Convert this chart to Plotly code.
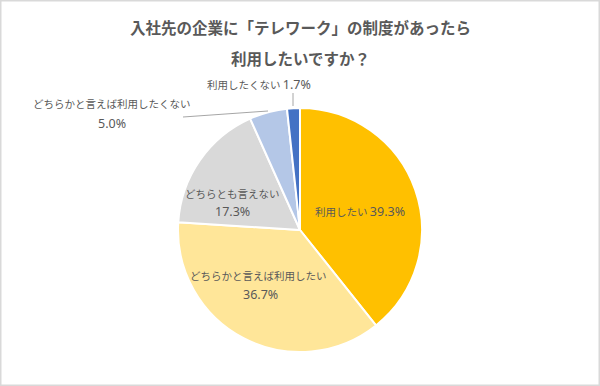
import plotly.graph_objects as go

categories = ["利用したい", "どちらかと言えば利用したい", "どちらとも言えない",
              "どちらかと言えば利用したくない", "利用したくない"]
values = [39.3, 36.7, 17.3, 5.0, 1.7]
colors = ["#FFC000", "#FFE699", "#D9D9D9", "#B4C7E7", "#4472C4"]
title_lines = ["入社先の企業に「テレワーク」の制度があったら", "利用したいですか？"]

W, H = 600, 386
FONT = "Noto Sans CJK JP"

fig = go.Figure(go.Pie(
    labels=categories, values=values, sort=False, direction="clockwise", rotation=0,
    marker=dict(colors=colors, line=dict(color="white", width=2)),
    textinfo="none", hoverinfo="label+percent", showlegend=False,
    domain=dict(x=[0.5 - 122 / W, 0.5 + 122 / W], y=[(156 - 122) / H, (156 + 122) / H]),
))

def px(x, y):
    return x / W, 1 - y / H

anns = []
for i, t in enumerate(title_lines):
    x, y = px(300, 27 + 31 * i)
    anns.append(dict(text=f"<b>{t}</b>", x=x, y=y, xref="paper", yref="paper",
                     xanchor="center", yanchor="middle", showarrow=False,
                     font=dict(size=15.5, color="#595959", family=FONT)))

def pct(v):
    return f"<span style='font-family:Noto Sans;font-size:12.5px'>{v:.1f}%</span>"

def lab(text, cx, cy):
    x, y = px(cx, cy)
    anns.append(dict(text=text, x=x, y=y, xref="paper", yref="paper", showarrow=False,
                     xanchor="center", yanchor="middle",
                     font=dict(size=10.5, color="#595959", family=FONT)))

lab(f"{categories[0]} {pct(values[0])}", 360, 211)
lab(categories[1], 258, 275)
lab(pct(values[1]), 260, 294)
lab(categories[2], 232, 193)
lab(pct(values[2]), 232, 212)
lab(categories[3], 112, 103)
lab(pct(values[3]), 112, 123)
lab(f"{categories[4]} {pct(values[4])}", 259, 84)

shapes = [
    dict(type="line", xref="paper", yref="paper", x0=183 / W, y0=1 - 117 / H, x1=268 / W, y1=1 - 111 / H,
         line=dict(color="#A6A6A6", width=1)),
    dict(type="line", xref="paper", yref="paper", x0=293 / W, y0=1 - 93 / H, x1=293 / W, y1=1 - 106 / H,
         line=dict(color="#A6A6A6", width=1)),
    dict(type="rect", xref="paper", yref="paper", x0=0, y0=0, x1=1, y1=1,
         line=dict(color="#D9D9D9", width=3)),
]

fig.update_layout(width=W, height=H, margin=dict(l=0, r=0, t=0, b=0),
                  paper_bgcolor="white", plot_bgcolor="white",
                  annotations=anns, shapes=shapes, font=dict(family=FONT))
fig.write_html("out.html", config={"displayModeBar": False},
               post_script="document.body.style.margin='0';")
